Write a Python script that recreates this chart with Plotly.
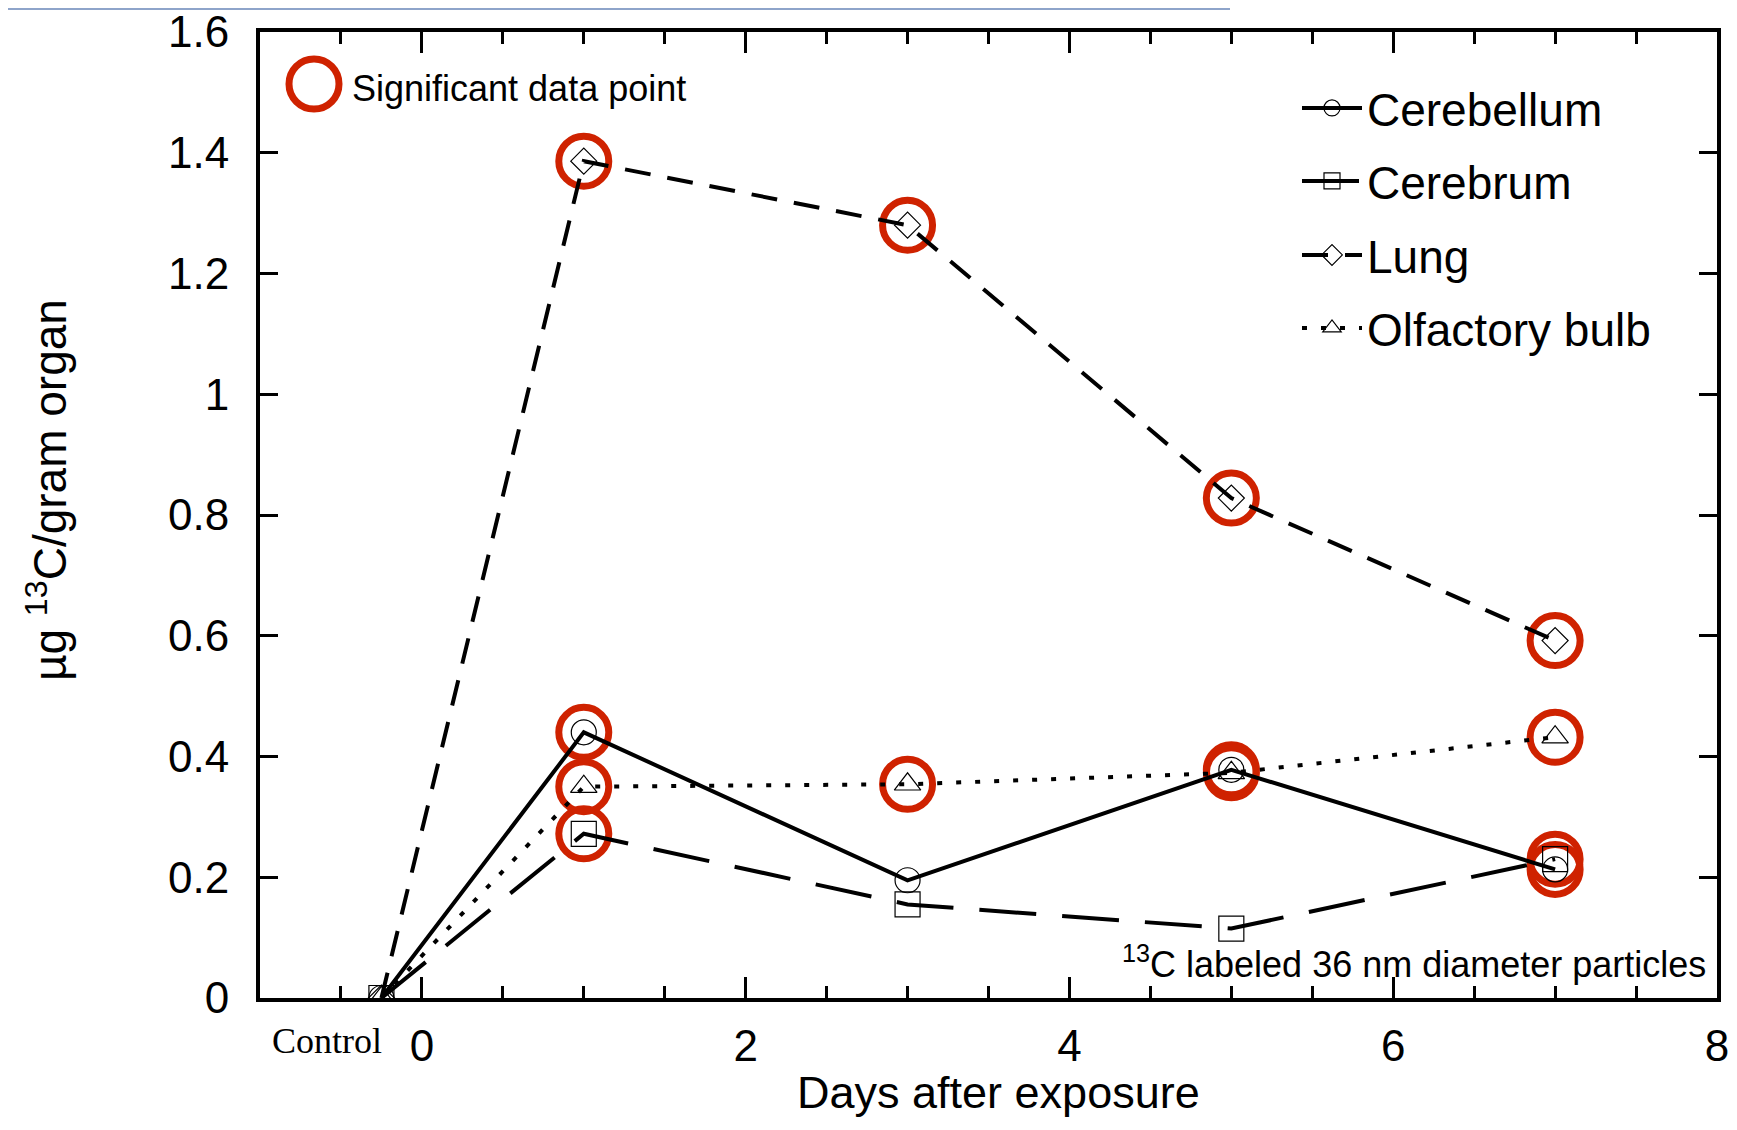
import plotly.graph_objects as go

# ---------------- data ----------------
days = [-0.25, 1, 3, 5, 7]          # first point = Control
series_names = ["Cerebellum", "Cerebrum", "Lung", "Olfactory bulb"]
cerebellum = [0.0, 0.440, 0.195, 0.378, 0.213]
cerebrum = [0.0, 0.272, 0.155, 0.115, 0.230]
lung = [0.0, 1.386, 1.280, 0.828, 0.592]
olfactory = [0.0, 0.350, 0.354, 0.373, 0.432]

sig_cerebellum = [False, True, False, True, True]
sig_cerebrum = [False, True, False, False, True]
sig_lung = [False, True, True, True, True]
sig_olfactory = [False, True, True, True, True]

x_tickvals = [0, 2, 4, 6, 8]
y_tickvals = [0, 0.2, 0.4, 0.6, 0.8, 1.0, 1.2, 1.4, 1.6]

# ---------------- styles ----------------
FONT = "Liberation Sans, Arial, sans-serif"
RED = "#CF2200"
values = [cerebellum, cerebrum, lung, olfactory]
sigs = [sig_cerebellum, sig_cerebrum, sig_lung, sig_olfactory]
symbols = ["circle-open", "square-open", "diamond-open", "triangle-up-open"]
msizes = [25, 25, 20, 23]
dashes = ["solid", "57px,26px", "26px,17px", "5px,14px"]

fig = go.Figure()

# significant-point rings (drawn under the lines)
sx, sy = [], []
for vals, flags in zip(values, sigs):
    for xv, yv, f in zip(days, vals, flags):
        if f:
            sx.append(xv)
            sy.append(yv)
fig.add_trace(go.Scatter(
    x=sx, y=sy, mode="markers", showlegend=False, hoverinfo="skip",
    marker=dict(symbol="circle-open", size=50, color=RED, line=dict(width=7)),
))

legend_ids = ["legend", "legend2", "legend3", "legend4"]
for name, vals, sym, ms, dash, lg in zip(series_names, values, symbols, msizes, dashes, legend_ids):
    fig.add_trace(go.Scatter(
        x=days, y=vals, mode="lines+markers", name=name, legend=lg,
        line=dict(color="black", width=4, dash=dash),
        marker=dict(symbol=sym, size=ms, color="black", line=dict(width=1.2)),
    ))

# ---------------- layout ----------------
OFF = 8                      # page body margin
W, H = 1737 - 2 * OFF, 1130 - 2 * OFF
PL, PR, PT, PB = 260, 1717, 32, 998   # plot area in page pixels
L, R, T, B = PL - OFF, W - (PR - OFF), PT - OFF, H - (PB - OFF)
pw, ph = PR - PL, PB - PT

def px(xpix):
    return (xpix - PL) / pw

def py(ypix):
    return (PB - ypix) / ph

legend_common = dict(
    font=dict(family=FONT, size=46, color="black"),
    bgcolor="rgba(0,0,0,0)", borderwidth=0,
    xanchor="left", yanchor="middle", itemwidth=60,
)
leg_y = [108, 181, 255, 328]
legends = {}
for lg, yy in zip(legend_ids, leg_y):
    legends[lg] = dict(legend_common, x=px(1297), y=py(yy))

fig.update_layout(
    width=W, height=H,
    margin=dict(l=L, r=R, t=T, b=B, autoexpand=False),
    paper_bgcolor="white", plot_bgcolor="white",
    font=dict(family=FONT, color="black"),
    showlegend=True,
    **legends,
    xaxis=dict(
        range=[-1, 8], tickmode="array", tickvals=x_tickvals,
        ticks="inside", ticklen=21, tickwidth=3, tickcolor="black",
        minor=dict(dtick=0.5, tick0=0, ticks="inside", ticklen=12, tickwidth=3, tickcolor="black"),
        showline=True, linewidth=4, linecolor="black", mirror="ticks",
        showgrid=False, zeroline=False, automargin=False,
        tickfont=dict(family=FONT, size=44, color="black"),
        ticklabelstandoff=6, ticklabeloverflow="allow",
    ),
    yaxis=dict(
        range=[0, 1.6], tickmode="array", tickvals=y_tickvals,
        ticktext=[("%g" % v) for v in y_tickvals],
        ticks="inside", ticklen=18, tickwidth=3, tickcolor="black",
        showline=True, linewidth=4, linecolor="black", mirror="ticks",
        showgrid=False, zeroline=False, automargin=False,
        tickfont=dict(family=FONT, size=44, color="black"),
        ticklabelstandoff=18, ticklabeloverflow="allow",
    ),
)

# top decorative blue line
fig.add_shape(type="line", xref="paper", yref="paper",
              x0=px(0), x1=px(1230), y0=py(9), y1=py(9),
              line=dict(color="#8EA4CA", width=2))

# significance key circle
fig.add_shape(type="circle", xref="paper", yref="paper",
              xsizemode="pixel", ysizemode="pixel",
              xanchor=px(314), yanchor=py(84),
              x0=-25, x1=25, y0=-25, y1=25,
              line=dict(color=RED, width=7))

annotations = [
    dict(text="Significant data point", x=px(350), y=py(88), xanchor="left", yanchor="middle",
         font=dict(family=FONT, size=36, color="black")),
    dict(text="<sup>13</sup>C labeled 36 nm diameter particles", x=px(1708), y=py(962),
         xanchor="right", yanchor="middle", font=dict(family=FONT, size=36, color="black")),
    dict(text="Control", x=px(327), y=py(1041), xanchor="center", yanchor="middle",
         font=dict(family="Liberation Serif, Times New Roman, serif", size=36, color="black")),
    dict(text="Days after exposure", x=px(998), y=py(1092), xanchor="center", yanchor="middle",
         font=dict(family=FONT, size=45, color="black")),
    dict(text="µg <sup>13</sup>C/gram organ", x=px(47), y=py(490), xanchor="center", yanchor="middle",
         textangle=-90, font=dict(family=FONT, size=46, color="black")),
]
for a in annotations:
    a.update(xref="paper", yref="paper", showarrow=False)
    fig.add_annotation(**a)

fig.write_html("out.html")
